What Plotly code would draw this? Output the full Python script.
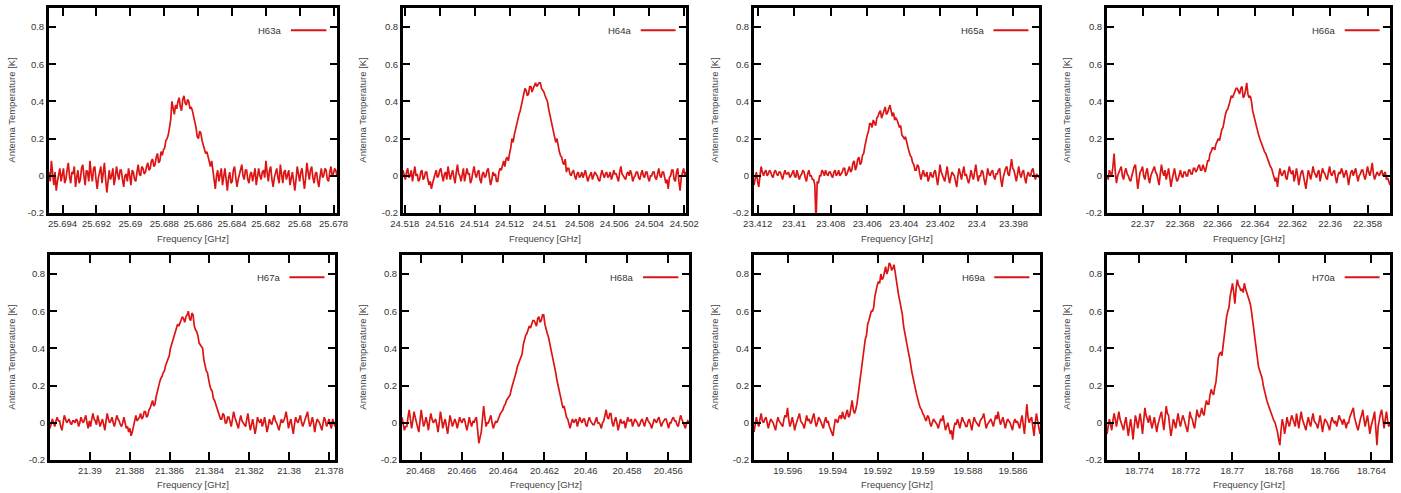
import numpy as np
import plotly.graph_objects as go

# ---------------- data ----------------
line_names = ["H63a", "H64a", "H65a", "H66a", "H67a", "H68a", "H69a", "H70a"]

# channel frequency span of each spectrum (GHz), first and last channel
freq_first = [25.6948, 24.5181, 23.4122, 22.3719, 21.3920, 20.4689, 19.5975, 18.7754]
freq_last = [25.6778, 24.5019, 23.3966, 22.3568, 21.3777, 20.4550, 19.5848, 18.7632]

t_h63a = [
    0.02, -0.03, 0.08, 0.01, -0.05, 0.02, -0.08, -0.03, 0.0, 0.04, -0.03, 0.02, 0.04, -0.04, -0.02, 0.03, 0.07, 0.0, -0.04, 0.02,
    0.01, 0.05, -0.06, -0.01, 0.03, -0.04, -0.02, 0.04, 0.06, 0.0, -0.05, 0.03, 0.02, -0.03, 0.08, 0.01, -0.03, 0.04, 0.05, -0.02,
    -0.07, -0.01, 0.02, 0.05, -0.04, 0.01, 0.07, -0.02, -0.09, -0.03, 0.03, -0.02, 0.0, 0.04, -0.05, -0.01, 0.05, 0.01, -0.02, 0.03,
    0.03, -0.02, -0.06, 0.0, 0.01, -0.03, 0.04, 0.0, -0.05, 0.03, 0.02, -0.02, -0.03, 0.02, 0.06, 0.01, 0.0, 0.05, 0.04, 0.01,
    0.02, 0.05, 0.07, 0.03, 0.04, 0.08, 0.09, 0.05, 0.06, 0.1, 0.12, 0.07, 0.08, 0.13, 0.11, 0.14, 0.15, 0.19, 0.2, 0.22,
    0.27, 0.3, 0.4, 0.36, 0.33, 0.38, 0.36, 0.4, 0.42, 0.37, 0.35, 0.41, 0.43, 0.39, 0.38, 0.41, 0.40, 0.36, 0.37, 0.35,
    0.32, 0.3, 0.26, 0.21, 0.2, 0.24, 0.23, 0.19, 0.17, 0.14, 0.12, 0.13, 0.1, 0.07, 0.05, 0.08, 0.02, -0.02, -0.07, 0.0,
    0.03, -0.03, 0.0, 0.04, -0.05, 0.01, 0.04, -0.02, -0.08, -0.01, 0.02, -0.04, -0.03, 0.03, 0.05, -0.01, -0.06, -0.02, 0.01, 0.04,
    0.06, 0.0, -0.02, 0.03, 0.03, -0.02, -0.04, 0.01, 0.02, -0.03, 0.0, 0.04, -0.05, -0.01, 0.04, 0.0, -0.02, 0.02, 0.03, -0.01,
    0.08, 0.02, -0.03, 0.03, 0.05, -0.02, -0.06, -0.01, 0.02, 0.04, -0.01, -0.04, 0.06, 0.01, -0.04, 0.02, 0.03, -0.02, 0.0, 0.03,
    -0.05, 0.0, 0.02, -0.03, -0.08, -0.02, 0.05, 0.01, -0.03, 0.02, 0.04, -0.02, -0.07, -0.01, 0.07, 0.02, -0.02, 0.03, 0.05, -0.01,
    -0.04, 0.01, 0.02, -0.03, -0.06, 0.0, 0.04, -0.01, 0.0, 0.04, 0.03, -0.02, -0.03, 0.02, 0.05, 0.0, 0.01, 0.04, 0.03, 0.0]

t_h64a = [
    0.03, 0.0, -0.02, 0.02, 0.04, -0.01, 0.0, 0.03, -0.03, 0.01, 0.05, 0.0, 0.01, -0.03, -0.02, 0.02, 0.03, -0.02, -0.01, 0.02,
    0.02, -0.02, -0.05, -0.03, -0.07, -0.04, -0.02, 0.01, 0.03, -0.01, 0.0, 0.03, 0.04, 0.0, -0.03, 0.01, 0.02, -0.02, 0.05, 0.01,
    -0.02, 0.01, 0.03, -0.01, -0.04, 0.02, 0.06, 0.01, 0.0, -0.03, 0.02, 0.04, -0.03, 0.0, 0.04, 0.01, 0.01, -0.04, -0.02, 0.02,
    0.05, 0.01, -0.01, 0.02, 0.03, -0.02, -0.04, 0.01, 0.02, -0.01, 0.0, 0.03, 0.04, -0.01, -0.05, -0.02, 0.02, 0.0, 0.01, -0.03,
    -0.03, 0.02, 0.04, 0.03, 0.06, 0.08, 0.05, 0.09, 0.1, 0.08, 0.12, 0.15, 0.2, 0.18, 0.22, 0.25, 0.28, 0.3, 0.33, 0.35,
    0.38, 0.42, 0.44, 0.47, 0.46, 0.43, 0.44, 0.48, 0.48, 0.45, 0.47, 0.49, 0.5, 0.48, 0.49, 0.5, 0.5, 0.47, 0.46, 0.45,
    0.43, 0.41, 0.4, 0.36, 0.33, 0.3, 0.28, 0.25, 0.22, 0.18, 0.2, 0.15, 0.13, 0.11, 0.1, 0.07, 0.06, 0.09, 0.02, 0.04,
    0.04, 0.01, 0.0, 0.02, 0.03, 0.0, -0.02, 0.01, 0.02, -0.01, 0.0, 0.02, -0.01, 0.01, 0.03, 0.0, -0.03, -0.01, 0.01, 0.02,
    -0.02, 0.0, 0.02, 0.01, 0.0, -0.02, -0.03, 0.0, 0.03, 0.01, -0.01, 0.01, 0.02, -0.01, 0.0, 0.02, -0.02, 0.0, 0.03, 0.01,
    0.01, -0.01, -0.03, 0.02, 0.05, 0.01, 0.0, -0.01, -0.02, 0.01, 0.02, 0.0, 0.03, 0.01, -0.03, -0.01, 0.0, 0.02, 0.02, -0.01,
    -0.02, 0.01, 0.03, 0.0, -0.01, 0.02, 0.02, -0.01, -0.03, 0.0, 0.0, 0.02, 0.02, -0.01, -0.02, 0.01, 0.04, 0.0, -0.01, 0.02,
    0.02, -0.01, -0.04, -0.02, -0.07, -0.01, 0.0, 0.03, 0.03, -0.02, -0.03, 0.02, 0.04, -0.03, -0.08, -0.01, 0.02, 0.04, 0.0, 0.02]

t_h65a = [
    -0.05, 0.0, 0.02, -0.03, -0.06, 0.0, 0.05, 0.02, 0.0, 0.02, 0.03, 0.0, 0.01, 0.03, 0.02, 0.0, -0.01, 0.02, 0.03, 0.01,
    0.0, 0.02, 0.02, 0.0, -0.02, 0.01, 0.03, 0.01, 0.01, 0.02, -0.01, 0.0, 0.02, 0.03, 0.0, -0.01, 0.03, 0.01, -0.02, 0.0,
    0.01, 0.03, 0.02, -0.01, -0.03, 0.01, 0.03, 0.0, 0.0, -0.02, -0.02, -0.05, -0.25, -0.03, -0.04, 0.0, 0.0, 0.03, 0.02, 0.0,
    0.03, 0.01, 0.0, 0.02, 0.02, 0.0, -0.01, 0.02, 0.03, 0.0, 0.01, 0.03, 0.0, 0.01, 0.02, 0.04, 0.04, 0.0, 0.01, 0.03,
    0.05, 0.02, 0.03, 0.07, 0.08, 0.03, 0.05, 0.09, 0.1, 0.06, 0.07, 0.11, 0.12, 0.16, 0.2, 0.22, 0.24, 0.28, 0.28, 0.26,
    0.3, 0.28, 0.27, 0.31, 0.32, 0.34, 0.35, 0.31, 0.33, 0.36, 0.37, 0.33, 0.34, 0.36, 0.38, 0.35, 0.32, 0.34, 0.3, 0.31,
    0.3, 0.28, 0.26, 0.27, 0.22, 0.21, 0.2, 0.21, 0.18, 0.15, 0.13, 0.11, 0.1, 0.07, 0.06, 0.03, 0.03, 0.06, 0.05, 0.01,
    -0.02, 0.01, 0.03, 0.0, 0.0, 0.02, -0.03, -0.01, 0.02, 0.0, -0.01, 0.02, 0.03, -0.01, -0.05, 0.0, 0.06, 0.02, 0.0, -0.02,
    -0.03, 0.01, 0.05, 0.0, -0.04, -0.01, 0.02, 0.01, 0.0, -0.03, -0.06, 0.0, 0.04, 0.01, -0.02, 0.02, 0.05, 0.0, 0.01, -0.02,
    -0.04, -0.01, 0.03, 0.0, -0.02, 0.02, 0.06, 0.01, -0.03, 0.0, 0.0, 0.03, 0.02, -0.02, -0.05, -0.01, 0.04, 0.01, 0.0, 0.02,
    0.03, 0.0, -0.02, 0.01, 0.01, 0.03, 0.04, -0.02, -0.06, -0.01, 0.02, 0.04, 0.05, 0.01, 0.0, 0.05, 0.09, 0.04, 0.03, 0.0,
    -0.03, 0.01, 0.05, 0.01, -0.01, 0.02, 0.03, -0.01, -0.04, 0.0, 0.02, 0.0, 0.0, 0.03, 0.04, 0.0, -0.02, 0.01, 0.0, -0.01]

t_h66a = [
    0.0, -0.02, 0.03, 0.01, 0.0, 0.05, 0.12, 0.02, -0.04, 0.0, 0.02, 0.04, 0.05, 0.0, -0.02, 0.02, 0.04, 0.01, 0.0, -0.02,
    -0.03, 0.0, 0.03, 0.05, 0.06, -0.01, -0.07, -0.02, 0.02, 0.03, 0.05, 0.0, -0.02, 0.02, 0.04, -0.01, -0.04, 0.0, 0.02, 0.04,
    0.05, 0.02, 0.01, -0.02, -0.05, 0.01, 0.06, 0.02, 0.0, 0.03, -0.02, 0.01, 0.04, -0.01, -0.06, -0.02, 0.02, 0.04, 0.0, -0.03,
    -0.02, 0.0, 0.03, 0.0, -0.01, 0.02, 0.02, 0.0, 0.0, 0.03, 0.03, 0.01, 0.01, 0.04, 0.04, 0.02, 0.03, 0.05, 0.06, 0.03,
    0.03, 0.06, 0.04, 0.02, 0.05, 0.08, 0.08, 0.12, 0.13, 0.15, 0.15, 0.14, 0.17, 0.19, 0.2, 0.19, 0.22, 0.25, 0.26, 0.3,
    0.33, 0.35, 0.36, 0.38, 0.4, 0.43, 0.42, 0.44, 0.45, 0.47, 0.47, 0.45, 0.44, 0.47, 0.48, 0.42, 0.43, 0.46, 0.5, 0.44,
    0.42, 0.43, 0.4, 0.35, 0.32, 0.3, 0.27, 0.24, 0.22, 0.2, 0.18, 0.17, 0.15, 0.13, 0.12, 0.1, 0.08, 0.06, 0.05, 0.04,
    0.02, 0.0, -0.03, -0.01, -0.06, 0.0, 0.04, 0.01, 0.0, 0.02, 0.03, -0.01, -0.02, 0.02, 0.05, 0.02, 0.01, 0.03, -0.03, 0.0,
    0.04, 0.0, -0.05, -0.01, 0.02, 0.03, 0.0, -0.03, -0.07, -0.02, 0.03, 0.01, -0.02, 0.01, 0.05, 0.02, 0.0, -0.01, 0.02, 0.03,
    -0.03, 0.0, 0.04, 0.02, 0.01, -0.01, -0.02, 0.02, 0.05, 0.01, 0.0, 0.02, 0.03, -0.01, -0.04, 0.0, 0.02, 0.01, 0.04, 0.02,
    -0.01, 0.01, 0.03, 0.0, -0.05, -0.01, 0.02, 0.03, 0.0, 0.02, 0.04, 0.0, -0.03, 0.0, 0.01, 0.03, 0.03, 0.0, -0.02, 0.01,
    0.05, 0.02, 0.0, 0.03, 0.07, 0.01, -0.02, 0.0, 0.02, 0.01, 0.0, 0.02, 0.03, 0.0, 0.01, 0.02, -0.02, -0.01, -0.03, -0.05]

t_h67a = [
    -0.03, 0.0, 0.02, 0.0, -0.02, 0.01, 0.03, 0.01, 0.01, -0.02, -0.04, 0.0, 0.04, 0.02, 0.0, 0.01, 0.02, 0.0, -0.01, 0.01,
    0.01, 0.0, 0.02, 0.01, -0.02, 0.0, 0.03, 0.01, 0.0, 0.02, 0.04, 0.0, -0.03, 0.01, -0.02, 0.02, 0.05, 0.02, 0.01, -0.01,
    0.04, 0.01, -0.02, 0.0, 0.02, -0.01, -0.04, 0.01, 0.05, 0.02, 0.0, 0.01, 0.03, 0.0, -0.02, 0.01, 0.04, 0.02, 0.01, -0.01,
    -0.02, 0.0, 0.03, 0.0, -0.03, -0.02, -0.05, -0.03, -0.07, -0.05, -0.02, 0.01, 0.04, 0.01, 0.02, 0.03, 0.05, 0.02, 0.03, 0.06,
    0.06, 0.03, 0.04, 0.07, 0.08, 0.1, 0.12, 0.09, 0.1, 0.14, 0.17, 0.2, 0.22, 0.24, 0.25, 0.27, 0.28, 0.31, 0.33, 0.35,
    0.36, 0.4, 0.42, 0.44, 0.46, 0.48, 0.5, 0.53, 0.52, 0.54, 0.55, 0.57, 0.56, 0.54, 0.57, 0.58, 0.6, 0.56, 0.55, 0.59,
    0.58, 0.52, 0.5, 0.49, 0.47, 0.43, 0.42, 0.41, 0.4, 0.34, 0.3, 0.28, 0.27, 0.23, 0.2, 0.18, 0.17, 0.13, 0.12, 0.1,
    0.08, 0.06, 0.05, 0.02, 0.02, 0.05, 0.04, 0.0, 0.0, 0.03, 0.03, 0.0, -0.02, 0.02, 0.06, 0.03, 0.01, -0.01, -0.03, 0.01,
    0.04, 0.01, 0.0, -0.01, -0.02, 0.02, 0.05, 0.0, -0.04, -0.01, 0.02, -0.02, -0.06, -0.02, 0.03, 0.01, 0.0, 0.02, -0.02, 0.0,
    0.03, -0.01, -0.05, -0.02, 0.02, 0.0, -0.01, 0.02, 0.04, 0.01, 0.0, -0.02, -0.04, -0.01, 0.02, 0.0, 0.01, 0.03, 0.06, 0.02,
    -0.03, 0.0, 0.02, -0.02, -0.06, -0.01, 0.03, 0.01, 0.0, 0.02, 0.04, 0.0, -0.02, 0.0, 0.02, 0.03, 0.06, 0.01, -0.02, 0.0,
    0.03, 0.0, -0.05, -0.01, 0.02, 0.01, 0.0, -0.02, -0.04, 0.0, 0.03, 0.01, -0.02, 0.0, 0.02, -0.01, -0.03, 0.02, 0.0, -0.02]

t_h68a = [
    0.03, -0.01, -0.04, -0.02, -0.02, 0.03, 0.07, 0.02, -0.03, 0.01, 0.06, 0.03, 0.0, -0.03, -0.05, 0.01, 0.07, 0.02, -0.02, 0.0,
    0.03, 0.0, -0.04, 0.01, 0.05, 0.02, 0.0, 0.01, 0.02, -0.01, -0.05, 0.0, 0.06, 0.02, -0.03, 0.0, 0.02, -0.02, -0.06, -0.01,
    0.04, 0.01, -0.02, 0.0, 0.02, 0.0, -0.03, 0.0, 0.03, 0.01, 0.0, 0.02, 0.02, -0.01, -0.04, -0.01, 0.03, 0.0, -0.02, 0.01,
    0.0, 0.02, 0.03, -0.04, -0.11, -0.08, -0.05, 0.02, 0.09, 0.03, -0.02, 0.0, 0.0, 0.02, 0.04, 0.0, -0.03, -0.01, 0.01, 0.0,
    0.02, 0.03, 0.05, 0.06, 0.07, 0.09, 0.1, 0.12, 0.13, 0.14, 0.15, 0.18, 0.2, 0.22, 0.24, 0.27, 0.3, 0.32, 0.34, 0.35,
    0.37, 0.42, 0.45, 0.47, 0.48, 0.5, 0.52, 0.51, 0.53, 0.55, 0.55, 0.53, 0.52, 0.56, 0.57, 0.54, 0.55, 0.58, 0.58, 0.53,
    0.5, 0.48, 0.46, 0.43, 0.4, 0.36, 0.33, 0.3, 0.27, 0.23, 0.2, 0.17, 0.15, 0.11, 0.08, 0.09, 0.06, 0.03, 0.02, -0.01,
    -0.03, 0.0, 0.02, 0.0, 0.01, 0.02, -0.02, 0.0, 0.03, 0.01, 0.0, 0.02, 0.02, -0.01, -0.02, 0.01, 0.03, 0.01, 0.0, -0.01,
    -0.01, 0.01, 0.03, 0.0, 0.0, -0.01, -0.03, 0.0, 0.01, 0.04, 0.07, 0.03, 0.02, 0.05, 0.05, 0.0, -0.02, 0.01, 0.03, 0.0,
    -0.04, -0.01, 0.02, 0.0, 0.0, 0.01, -0.03, 0.0, 0.03, 0.01, 0.01, 0.02, -0.02, 0.0, 0.02, 0.01, 0.0, -0.02, -0.01, 0.01,
    0.02, 0.0, -0.02, 0.01, 0.03, 0.01, 0.0, -0.01, -0.03, 0.0, 0.02, 0.01, 0.0, 0.02, 0.03, 0.0, -0.02, 0.0, 0.01, 0.02,
    0.02, 0.0, -0.03, 0.0, 0.0, 0.02, 0.03, 0.01, 0.01, -0.01, -0.02, 0.01, 0.04, 0.02, 0.0, -0.01, -0.03, 0.0, 0.01, 0.0]

t_h69a = [
    -0.05, -0.01, 0.03, 0.0, -0.02, 0.02, 0.05, 0.01, 0.0, 0.02, 0.03, 0.0, -0.03, 0.0, 0.02, 0.01, 0.0, -0.02, -0.04, 0.0,
    0.03, 0.01, 0.0, -0.01, -0.02, 0.02, 0.04, 0.03, 0.08, 0.02, -0.02, 0.0, 0.03, 0.0, -0.04, -0.01, 0.01, 0.03, 0.05, 0.01,
    0.0, -0.01, -0.03, 0.01, 0.04, 0.01, 0.02, 0.0, 0.0, 0.03, 0.05, 0.01, -0.02, 0.0, 0.03, 0.02, 0.0, -0.01, -0.03, 0.01,
    0.03, 0.0, 0.01, -0.02, -0.04, -0.05, -0.07, -0.02, 0.02, 0.01, 0.0, 0.03, 0.04, 0.02, 0.06, 0.03, 0.02, 0.05, 0.07, 0.03,
    0.04, 0.08, 0.12, 0.07, 0.05, 0.07, 0.1, 0.15, 0.2, 0.25, 0.3, 0.36, 0.42, 0.45, 0.47, 0.53, 0.55, 0.57, 0.6, 0.6,
    0.62, 0.68, 0.72, 0.74, 0.76, 0.75, 0.8, 0.77, 0.78, 0.82, 0.84, 0.8, 0.82, 0.86, 0.85, 0.82, 0.83, 0.85, 0.8, 0.77,
    0.72, 0.68, 0.65, 0.62, 0.58, 0.52, 0.48, 0.46, 0.42, 0.38, 0.35, 0.3, 0.27, 0.24, 0.2, 0.18, 0.15, 0.12, 0.1, 0.08,
    0.07, 0.05, 0.04, 0.02, 0.01, 0.04, 0.03, 0.0, -0.02, 0.0, 0.02, 0.01, 0.0, -0.01, -0.03, 0.0, 0.02, 0.01, 0.04, 0.0,
    -0.04, -0.02, 0.0, -0.03, -0.06, -0.04, -0.09, -0.03, 0.0, -0.01, 0.02, 0.0, -0.03, 0.0, 0.03, 0.01, 0.0, -0.02, -0.02, 0.01,
    0.02, -0.01, -0.04, 0.0, 0.03, 0.01, 0.0, -0.01, -0.02, 0.01, 0.02, 0.03, 0.05, 0.0, -0.03, -0.01, 0.0, 0.01, 0.02, 0.0,
    -0.02, 0.01, 0.04, 0.02, 0.06, 0.02, -0.01, 0.01, 0.03, 0.0, -0.03, 0.0, 0.02, 0.01, 0.0, -0.02, -0.04, 0.0, 0.02, 0.0,
    0.01, -0.01, -0.03, 0.01, 0.04, -0.01, -0.06, 0.02, 0.1, 0.03, 0.0, 0.02, 0.03, -0.02, -0.07, 0.0, 0.05, 0.01, -0.02, -0.06]

t_h70a = [
    -0.06, -0.02, 0.02, -0.01, -0.04, 0.01, 0.05, 0.02, -0.02, 0.02, 0.06, 0.02, 0.0, -0.02, -0.04, 0.0, 0.03, -0.02, -0.07, -0.02,
    0.02, -0.03, -0.09, -0.02, 0.04, 0.01, -0.03, 0.01, 0.05, 0.0, -0.06, 0.01, 0.08, 0.04, 0.02, 0.0, 0.04, 0.01, -0.03, 0.0,
    0.03, -0.01, -0.05, -0.01, 0.02, 0.04, 0.06, 0.01, -0.04, 0.02, 0.09, 0.05, 0.04, -0.02, -0.07, -0.03, 0.02, 0.0, -0.03, 0.01,
    0.05, 0.01, -0.02, 0.01, 0.04, 0.02, 0.0, -0.03, -0.05, 0.0, 0.06, 0.03, 0.02, -0.01, -0.03, 0.02, 0.07, 0.04, 0.03, 0.05,
    0.08, 0.05, 0.04, 0.09, 0.12, 0.1, 0.1, 0.15, 0.18, 0.16, 0.15, 0.19, 0.22, 0.28, 0.35, 0.37, 0.38, 0.36, 0.42, 0.47,
    0.52, 0.57, 0.6, 0.62, 0.68, 0.72, 0.75, 0.7, 0.64, 0.72, 0.77, 0.74, 0.73, 0.71, 0.72, 0.7, 0.75, 0.72, 0.7, 0.69,
    0.67, 0.64, 0.6, 0.55, 0.5, 0.45, 0.4, 0.33, 0.3, 0.28, 0.26, 0.24, 0.2, 0.17, 0.15, 0.12, 0.1, 0.08, 0.06, 0.05,
    0.03, 0.01, 0.0, -0.02, -0.05, -0.09, -0.12, -0.04, 0.02, -0.01, -0.06, -0.02, 0.03, 0.0, -0.02, 0.01, 0.04, 0.02, 0.0, -0.02,
    0.05, 0.01, -0.03, 0.02, 0.06, 0.02, 0.0, -0.02, -0.04, 0.0, 0.03, 0.0, -0.02, 0.02, 0.05, 0.01, 0.0, -0.01, -0.03, 0.0,
    0.04, 0.0, -0.05, -0.01, 0.02, 0.01, 0.0, -0.02, -0.04, 0.0, 0.03, 0.01, 0.0, 0.01, -0.02, 0.01, 0.04, 0.02, 0.01, -0.01,
    0.02, 0.0, -0.03, 0.0, 0.0, 0.03, 0.05, 0.06, 0.08, 0.03, 0.0, -0.02, -0.04, 0.0, 0.02, 0.04, 0.07, 0.02, -0.02, 0.01,
    0.04, -0.01, -0.06, -0.02, 0.0, 0.03, 0.06, -0.03, -0.12, -0.02, 0.03, 0.05, 0.07, 0.01, -0.03, 0.02, 0.06, 0.01, -0.02, 0.0]

temperatures = [t_h63a, t_h64a, t_h65a, t_h66a, t_h67a, t_h68a, t_h69a, t_h70a]

x_tick_labels = [
    ["25.694", "25.692", "25.69", "25.688", "25.686", "25.684", "25.682", "25.68", "25.678"],
    ["24.518", "24.516", "24.514", "24.512", "24.51", "24.508", "24.506", "24.504", "24.502"],
    ["23.412", "23.41", "23.408", "23.406", "23.404", "23.402", "23.4", "23.398"],
    ["22.37", "22.368", "22.366", "22.364", "22.362", "22.36", "22.358"],
    ["21.39", "21.388", "21.386", "21.384", "21.382", "21.38", "21.378"],
    ["20.468", "20.466", "20.464", "20.462", "20.46", "20.458", "20.456"],
    ["19.596", "19.594", "19.592", "19.59", "19.588", "19.586"],
    ["18.774", "18.772", "18.77", "18.768", "18.766", "18.764"],
]
y_tick_labels = ["-0.2", "0", "0.2", "0.4", "0.6", "0.8"]
y_range = [-0.2, 0.9]

# ---------------- layout geometry (pixels) ----------------
W, H = 1401, 493
px_left = [49, 403, 754, 1107, 50, 402, 754, 1107]
px_right = [337, 686, 1039, 1390, 335, 689, 1040, 1390]
row_top = [8.4, 255.4]
row_bottom = [213, 460]

RED = "#dc1414"
TXT = "#333333"
FONT = "Liberation Sans, Arial, sans-serif"
FS = 9.5

fig = go.Figure()
annotations = []
shapes = []

for i in range(8):
    n = i + 1
    r = i // 4
    xa = "x" if n == 1 else f"x{n}"
    ya = "y" if n == 1 else f"y{n}"
    vals = temperatures[i]
    freqs = np.linspace(freq_first[i], freq_last[i], len(vals))
    fig.add_trace(go.Scatter(
        x=freqs, y=vals, mode="lines", xaxis=xa, yaxis=ya,
        line=dict(color=RED, width=1.7), showlegend=False, name=line_names[i],
        hoverinfo="skip"))

    xd = [px_left[i] / W, px_right[i] / W]
    yd = [1 - row_bottom[r] / H, 1 - row_top[r] / H]
    xkey = "xaxis" if n == 1 else f"xaxis{n}"
    ykey = "yaxis" if n == 1 else f"yaxis{n}"
    tv = [float(t) for t in x_tick_labels[i]]
    fig.update_layout(**{
        xkey: dict(domain=xd, anchor=ya, range=[freq_first[i], freq_last[i]],
                   automargin=False,
                   tickmode="array", tickvals=tv, ticktext=x_tick_labels[i],
                   ticks="inside", ticklen=8, tickwidth=2, tickcolor="black",
                   showline=True, linewidth=3, linecolor="black", mirror="ticks",
                   showgrid=False, zeroline=False,
                   tickfont=dict(family=FONT, size=FS, color=TXT)),
        ykey: dict(domain=yd, anchor=xa, range=y_range,
                   automargin=False,
                   tickmode="array", tickvals=[float(t) for t in y_tick_labels],
                   ticktext=y_tick_labels,
                   ticks="inside", ticklen=7, tickwidth=2, tickcolor="black",
                   showline=True, linewidth=3, linecolor="black", mirror="ticks",
                   showgrid=False, zeroline=False,
                   tickfont=dict(family=FONT, size=FS, color=TXT)),
    })

    # axis titles
    cx = (px_left[i] + px_right[i]) / 2 / W
    xt_y = 238 if r == 0 else 484
    annotations.append(dict(text="Frequency [GHz]", x=cx, y=1 - xt_y / H,
                            xref="paper", yref="paper", showarrow=False,
                            xanchor="center", yanchor="middle",
                            font=dict(family=FONT, size=FS, color="#444444")))
    yt_x = [12, 363, 715, 1067][i % 4]
    cy = 1 - (row_top[r] + row_bottom[r]) / 2 / H
    annotations.append(dict(text="Antenna Temperature [K]", x=yt_x / W, y=cy,
                            xref="paper", yref="paper", showarrow=False, textangle=-90,
                            xanchor="center", yanchor="middle",
                            font=dict(family=FONT, size=FS, color="#444444")))
    # legend entry (gnuplot-style: label then line sample)
    annotations.append(dict(text=line_names[i], x=0.813, y=0.893,
                            xref=f"{xa} domain", yref=f"{ya} domain", showarrow=False,
                            xanchor="right", yanchor="middle",
                            font=dict(family=FONT, size=FS, color=TXT)))
    shapes.append(dict(type="line", xref=f"{xa} domain", yref=f"{ya} domain",
                       x0=0.84, x1=0.963, y0=0.893, y1=0.893,
                       line=dict(color=RED, width=2)))

fig.update_layout(width=W, height=H,
                  margin=dict(l=0, r=0, t=0, b=0, pad=0, autoexpand=False),
                  paper_bgcolor="white", plot_bgcolor="white",
                  annotations=annotations, shapes=shapes)

# the page body has a default 8px margin; remove it so the figure sits at (0, 0)
fig.write_html("out.html",
               config={"displayModeBar": False, "staticPlot": True},
               post_script="document.body.style.margin='0px';document.body.style.overflow='hidden';")
